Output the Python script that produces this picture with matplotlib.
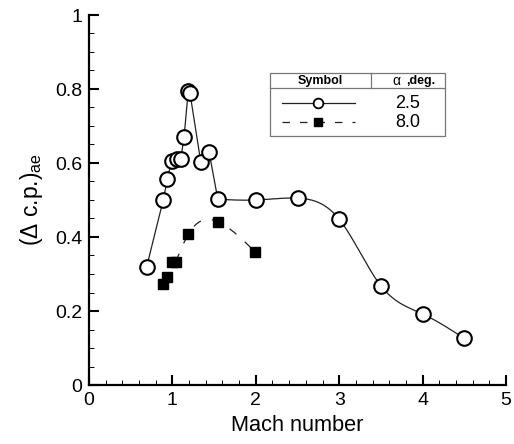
import numpy as np
import matplotlib
matplotlib.use("Agg")
import matplotlib.pyplot as plt
from matplotlib.ticker import MultipleLocator, FixedLocator, FixedFormatter
from matplotlib.lines import Line2D
from matplotlib.patches import Rectangle

plt.rcParams['font.family'] = ['Liberation Sans', 'DejaVu Sans']
plt.rcParams['mathtext.fontset'] = 'custom'
plt.rcParams['mathtext.rm'] = 'Liberation Sans'

# alpha = 2.5 deg (open circles)
mach_a25 = [0.69, 0.89, 0.94, 0.99, 1.05, 1.10, 1.14, 1.19, 1.21, 1.34, 1.44,
            1.545, 2.0, 2.5, 3.0, 3.5, 4.0, 4.5]
dcp_a25 = [0.318, 0.50, 0.556, 0.606, 0.61, 0.61, 0.671, 0.795, 0.79, 0.603, 0.629,
           0.502, 0.50, 0.505, 0.448, 0.268, 0.192, 0.126]
n_straight_a25 = 12  # first points joined by straight segments, rest by a smooth curve

# alpha = 8.0 deg (filled squares)
mach_a80 = [0.89, 0.94, 1.0, 1.04, 1.19, 1.545, 1.99]
dcp_a80 = [0.273, 0.291, 0.333, 0.333, 0.407, 0.441, 0.36]
curve_start_a80 = 3  # smooth dashed curve through points from this index

xticks = [0, 1, 2, 3, 4, 5]
yticks = [0, 0.2, 0.4, 0.6, 0.8, 1.0]
ytick_labels = ["0", "0.2", "0.4", "0.6", "0.8", "1"]
legend_values = ["2.5", "8.0"]


def natural_spline(x, y, n=200):
    x = np.asarray(x, float); y = np.asarray(y, float)
    m = len(x)
    h = np.diff(x)
    A = np.zeros((m, m)); b = np.zeros(m)
    A[0, 0] = 1; A[-1, -1] = 1
    for i in range(1, m - 1):
        A[i, i - 1] = h[i - 1]
        A[i, i] = 2 * (h[i - 1] + h[i])
        A[i, i + 1] = h[i]
        b[i] = 3 * ((y[i + 1] - y[i]) / h[i] - (y[i] - y[i - 1]) / h[i - 1])
    c = np.linalg.solve(A, b)
    xs = np.linspace(x[0], x[-1], n)
    ys = np.empty_like(xs)
    for k, xv in enumerate(xs):
        i = min(np.searchsorted(x, xv, side='right') - 1, m - 2)
        dx = xv - x[i]
        bi = (y[i + 1] - y[i]) / h[i] - h[i] * (2 * c[i] + c[i + 1]) / 3
        di = (c[i + 1] - c[i]) / (3 * h[i])
        ys[k] = y[i] + bi * dx + c[i] * dx ** 2 + di * dx ** 3
    return xs, ys


fig = plt.figure(figsize=(5.14, 4.44), dpi=100)
ax = fig.add_axes([89 / 514, 1 - 385 / 444, (506 - 89) / 514, (385 - 15) / 444])

# alpha 2.5 lines
ax.plot(mach_a25[:n_straight_a25], dcp_a25[:n_straight_a25], color='#222222', lw=0.9, zorder=2)
xs, ys = natural_spline(mach_a25[n_straight_a25 - 1:], dcp_a25[n_straight_a25 - 1:])
ax.plot(xs, ys, color='#222222', lw=0.9, zorder=2)
ax.plot(mach_a25, dcp_a25, linestyle='none', marker='o', ms=10.5, mfc='white',
        mec='black', mew=1.5, zorder=3)

# alpha 8.0
xs, ys = natural_spline(mach_a80[curve_start_a80:], dcp_a80[curve_start_a80:])
ax.plot(xs, ys, color='#222222', lw=0.9, dashes=(7, 9), zorder=2)
ax.plot(mach_a80, dcp_a80, linestyle='none', marker='s', ms=6.5, mfc='black',
        mec='black', zorder=3)

ax.set_xlim(0, 5)
ax.set_ylim(0, 1)
for s in ['top', 'right']:
    ax.spines[s].set_visible(False)
for s in ['left', 'bottom']:
    ax.spines[s].set_linewidth(1.6)
ax.xaxis.set_major_locator(FixedLocator(xticks))
ax.yaxis.set_major_locator(FixedLocator(yticks))
ax.yaxis.set_major_formatter(FixedFormatter(ytick_labels))
ax.xaxis.set_minor_locator(MultipleLocator(0.2))
ax.yaxis.set_minor_locator(MultipleLocator(0.05))
ax.tick_params(which='major', direction='in', length=7, width=1.5, labelsize=14, pad=5)
ax.tick_params(which='minor', direction='in', length=3.5, width=0.7)
ax.tick_params(axis='x', which='major', pad=5)

ax.set_xlabel("Mach number", fontsize=15.7, labelpad=4)
ax.set_ylabel(r"($\Delta$ c.p.)$_{\mathregular{ae}}$", fontsize=16.5, labelpad=7)

# legend table
def px(x, y):
    return x / 514, 1 - y / 444

L, R, T, B = 270, 445, 73, 136
H, D = 88, 371
x0, y0 = px(L, B)
fig.add_artist(Rectangle((x0, y0), (R - L) / 514, (B - T) / 444, transform=fig.transFigure,
                         fill=True, facecolor='white', edgecolor='#777777', lw=0.9, zorder=5))
fig.add_artist(Line2D([L / 514, R / 514], [1 - H / 444] * 2, transform=fig.transFigure,
                      color='#777777', lw=0.9, zorder=6))
fig.add_artist(Line2D([D / 514] * 2, [1 - T / 444, 1 - H / 444], transform=fig.transFigure,
                      color='#777777', lw=0.9, zorder=6))
fig.text(*px((L + D) / 2, (T + H) / 2 + 0.5), "Symbol", fontsize=9, fontweight='bold',
         ha='center', va='center', zorder=7)
fig.text(*px(396, (T + H) / 2 + 0.5), "α", fontsize=10,
         ha='center', va='center', zorder=7)
fig.text(*px(406, (T + H) / 2 + 0.5), ",deg.", fontsize=9, fontweight='bold',
         ha='left', va='center', zorder=7)
row_y = [103, 122]
sx = (282, 355)
fig.add_artist(Line2D([sx[0] / 514, sx[1] / 514], [1 - row_y[0] / 444] * 2, transform=fig.transFigure,
                      color='#222222', lw=0.9, zorder=7))
fig.add_artist(Line2D([318 / 514], [1 - row_y[0] / 444], transform=fig.transFigure, marker='o',
                      ms=7, mfc='white', mec='black', mew=1.3, zorder=8))
fig.add_artist(Line2D([sx[0] / 514, sx[1] / 514], [1 - row_y[1] / 444] * 2, transform=fig.transFigure,
                      color='#222222', lw=0.9, dashes=(6, 8), zorder=7))
fig.add_artist(Line2D([318 / 514], [1 - row_y[1] / 444], transform=fig.transFigure, marker='s',
                      ms=5.5, mfc='black', mec='black', zorder=8))
for v, ry in zip(legend_values, row_y):
    fig.text(*px((D + R) / 2, ry), v, fontsize=13, ha='center', va='center', zorder=7)

fig.savefig("out.png", dpi=100)
